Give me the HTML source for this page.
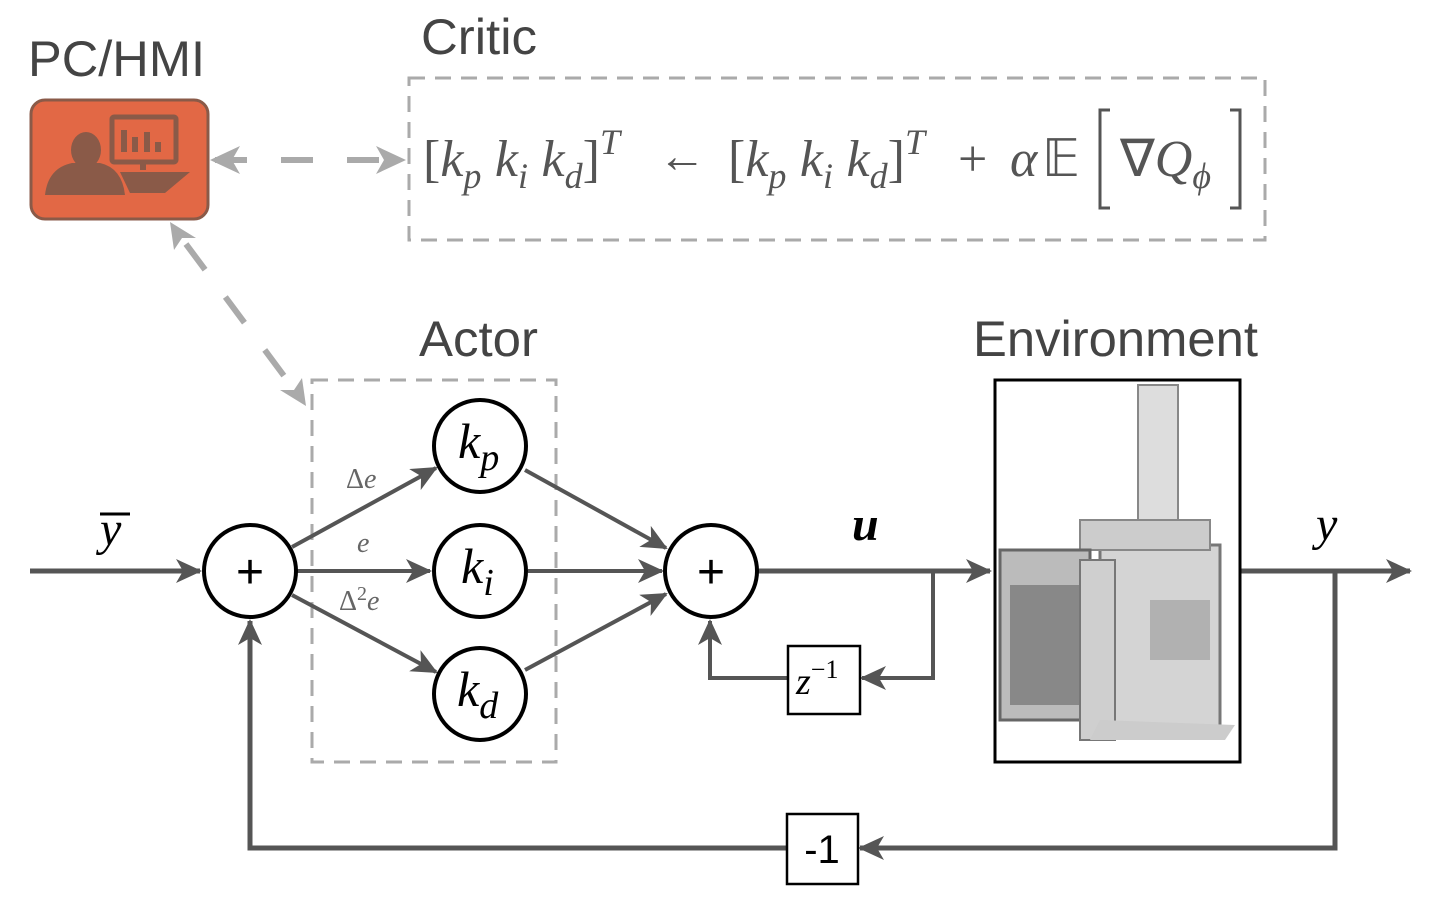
<!DOCTYPE html>
<html><head><style>body{margin:0;background:#fff}svg{display:block}</style></head><body>
<svg width="1446" height="906" viewBox="0 0 1446 906" xmlns="http://www.w3.org/2000/svg">
<defs>
<marker id="ab" markerWidth="26" markerHeight="24" refX="24" refY="12" orient="auto" markerUnits="userSpaceOnUse"><path d="M0,0 L26,12 L0,24 L7,12z" fill="#555"/></marker>
</defs>
<g font-family="Liberation Sans, sans-serif" fill="#444" font-size="50">
<text x="28" y="76" textLength="177" lengthAdjust="spacingAndGlyphs">PC/HMI</text>
<text x="421" y="54" textLength="116" lengthAdjust="spacingAndGlyphs">Critic</text>
<text x="419" y="356" textLength="119" lengthAdjust="spacingAndGlyphs">Actor</text>
<text x="973" y="356" textLength="285" lengthAdjust="spacingAndGlyphs">Environment</text>
</g>
<!-- PC box -->
<rect x="31" y="100" width="177" height="119" rx="14" fill="#e26845" stroke="#8a5a48" stroke-width="3"/>
<g fill="#8a5a48">
<ellipse cx="86" cy="150" rx="15" ry="18"/>
<path d="M45,195 Q48,168 72,163 L100,163 Q122,168 125,195 Z"/>
<rect x="112" y="117" width="64" height="45" rx="2" fill="none" stroke="#8a5a48" stroke-width="5"/>
<rect x="121" y="130" width="6" height="22"/><rect x="132" y="137" width="6" height="15"/><rect x="144" y="132" width="6" height="20"/><rect x="155" y="142" width="6" height="10"/>
<rect x="140" y="162" width="6" height="8"/>
<path d="M120,172 L190,172 L165,193 L130,193 Z"/>
</g>
<line x1="215" y1="160" x2="405" y2="160" stroke="#aaa" stroke-width="6" stroke-dasharray="32,34"/>
<path d="M210,160 L240,146 L232,160 L240,174Z M406,160 L376,146 L384,160 L376,174Z" fill="#aaa"/>
<line x1="180" y1="236" x2="296" y2="392" stroke="#aaa" stroke-width="6" stroke-dasharray="32,34" stroke-dashoffset="-10"/>
<path d="M170,222 L196,238 L182,238 L174,250Z M306,406 L280,390 L294,390 L302,378Z" fill="#aaa"/>
<rect x="409" y="78" width="856" height="162" fill="none" stroke="#aaa" stroke-width="3" stroke-dasharray="16,10"/>
<rect x="312" y="380" width="244" height="382" fill="none" stroke="#aaa" stroke-width="3" stroke-dasharray="16,10"/>
<!-- formula -->
<g font-family="Liberation Serif, serif" font-size="52" fill="#555">
<text x="423" y="176">[<tspan font-style="italic">k</tspan><tspan font-style="italic" font-size="36" dy="12">p</tspan><tspan dy="-12" font-size="30"> </tspan><tspan font-style="italic" dx="6">k</tspan><tspan font-style="italic" font-size="36" dy="12">i</tspan><tspan dy="-12" font-size="30"> </tspan><tspan font-style="italic" dx="6">k</tspan><tspan font-style="italic" font-size="36" dy="12">d</tspan><tspan dy="-12">]</tspan><tspan font-style="italic" font-size="36" dy="-22">T</tspan></text>
<text x="658" y="172" font-size="48">←</text>
<text x="728" y="176">[<tspan font-style="italic">k</tspan><tspan font-style="italic" font-size="36" dy="12">p</tspan><tspan dy="-12" font-size="30"> </tspan><tspan font-style="italic" dx="6">k</tspan><tspan font-style="italic" font-size="36" dy="12">i</tspan><tspan dy="-12" font-size="30"> </tspan><tspan font-style="italic" dx="6">k</tspan><tspan font-style="italic" font-size="36" dy="12">d</tspan><tspan dy="-12">]</tspan><tspan font-style="italic" font-size="36" dy="-22">T</tspan></text>
<text x="958" y="176">+</text>
<text x="1010" y="176" font-style="italic">α</text>
<text x="1042" y="176">𝔼</text>
<text x="1120" y="176">∇<tspan font-style="italic">Q</tspan><tspan font-style="italic" font-size="36" dy="12">ϕ</tspan></text>
</g>
<path d="M1110,110 L1100,110 L1100,208 L1110,208 M1230,110 L1240,110 L1240,208 L1230,208" fill="none" stroke="#555" stroke-width="3"/>
<g stroke="#555" stroke-width="5" fill="none">
<line x1="30" y1="571" x2="200" y2="571" marker-end="url(#ab)"/>
<line x1="758" y1="571" x2="990" y2="571" marker-end="url(#ab)"/>
<line x1="1240" y1="571" x2="1410" y2="571" marker-end="url(#ab)"/>
<polyline points="933,571 933,678 862,678" marker-end="url(#ab)" stroke-width="4"/>
<polyline points="788,678 710,678 710,621" marker-end="url(#ab)" stroke-width="4"/>
<polyline points="1335,571 1335,848 860,848" marker-end="url(#ab)"/>
<polyline points="787,848 250,848 250,621" marker-end="url(#ab)"/>
</g>
<g stroke="#555" stroke-width="4" fill="none">
<line x1="292" y1="547" x2="436" y2="468" marker-end="url(#ab)"/>
<line x1="296" y1="571" x2="430" y2="571" marker-end="url(#ab)"/>
<line x1="292" y1="595" x2="436" y2="672" marker-end="url(#ab)"/>
<line x1="525" y1="470" x2="666" y2="548" marker-end="url(#ab)"/>
<line x1="528" y1="571" x2="662" y2="571" marker-end="url(#ab)"/>
<line x1="525" y1="670" x2="666" y2="594" marker-end="url(#ab)"/>
</g>
<g fill="#fff" stroke="#000" stroke-width="4">
<circle cx="250" cy="571" r="46"/><circle cx="711" cy="571" r="46"/>
<circle cx="480" cy="446" r="46"/><circle cx="480" cy="571" r="46"/><circle cx="480" cy="694" r="46"/>
</g>
<g font-family="Liberation Sans, sans-serif" font-size="48" text-anchor="middle" fill="#000">
<text x="250" y="588">+</text><text x="711" y="588">+</text>
</g>
<g font-family="Liberation Serif, serif" font-style="italic" font-size="50" fill="#000">
<text x="458" y="458">k<tspan font-size="38" dy="12">p</tspan></text>
<text x="461" y="583">k<tspan font-size="38" dy="12">i</tspan></text>
<text x="457" y="706">k<tspan font-size="38" dy="12">d</tspan></text>
<text x="852" y="540" font-weight="bold" font-size="48">u</text>
<text x="1316" y="540" font-size="48">y</text>
<text x="100" y="545" font-size="48">y</text>
</g>
<line x1="100" y1="514" x2="130" y2="514" stroke="#000" stroke-width="3"/>
<g font-family="Liberation Serif, serif" font-size="28" fill="#666">
<text x="346" y="488">Δ<tspan font-style="italic">e</tspan></text>
<text x="357" y="552" font-style="italic">e</text>
<text x="339" y="610">Δ<tspan font-size="20" dy="-10">2</tspan><tspan font-style="italic" dy="10">e</tspan></text>
</g>
<rect x="788" y="646" width="72" height="68" fill="#fff" stroke="#000" stroke-width="2.5"/>
<text x="796" y="694" font-family="Liberation Serif, serif" font-style="italic" font-size="38">z<tspan font-style="normal" font-size="26" dy="-16">−1</tspan></text>
<rect x="787" y="814" width="71" height="70" fill="#fff" stroke="#000" stroke-width="2.5"/>
<text x="822" y="863" text-anchor="middle" font-family="Liberation Sans, sans-serif" font-size="40">-1</text>
<rect x="995" y="380" width="245" height="382" fill="#fff" stroke="#000" stroke-width="3"/>
<g>
<rect x="1138" y="385" width="40" height="175" fill="#ddd" stroke="#888" stroke-width="2"/>
<rect x="1100" y="545" width="120" height="190" fill="#d4d4d4" stroke="#777" stroke-width="3"/>
<rect x="1080" y="520" width="130" height="30" fill="#ccc" stroke="#888" stroke-width="2"/>
<rect x="1000" y="550" width="90" height="170" fill="#bbb" stroke="#666" stroke-width="3"/>
<rect x="1010" y="585" width="70" height="120" fill="#888"/>
<rect x="1080" y="560" width="35" height="180" fill="#cfcfcf" stroke="#777" stroke-width="2"/>
<path d="M1090,740 L1225,740 L1235,725 L1100,720Z" fill="#ccc"/>
<rect x="1150" y="600" width="60" height="60" fill="#999" opacity=".6"/>
</g>
</svg>
</body></html>
